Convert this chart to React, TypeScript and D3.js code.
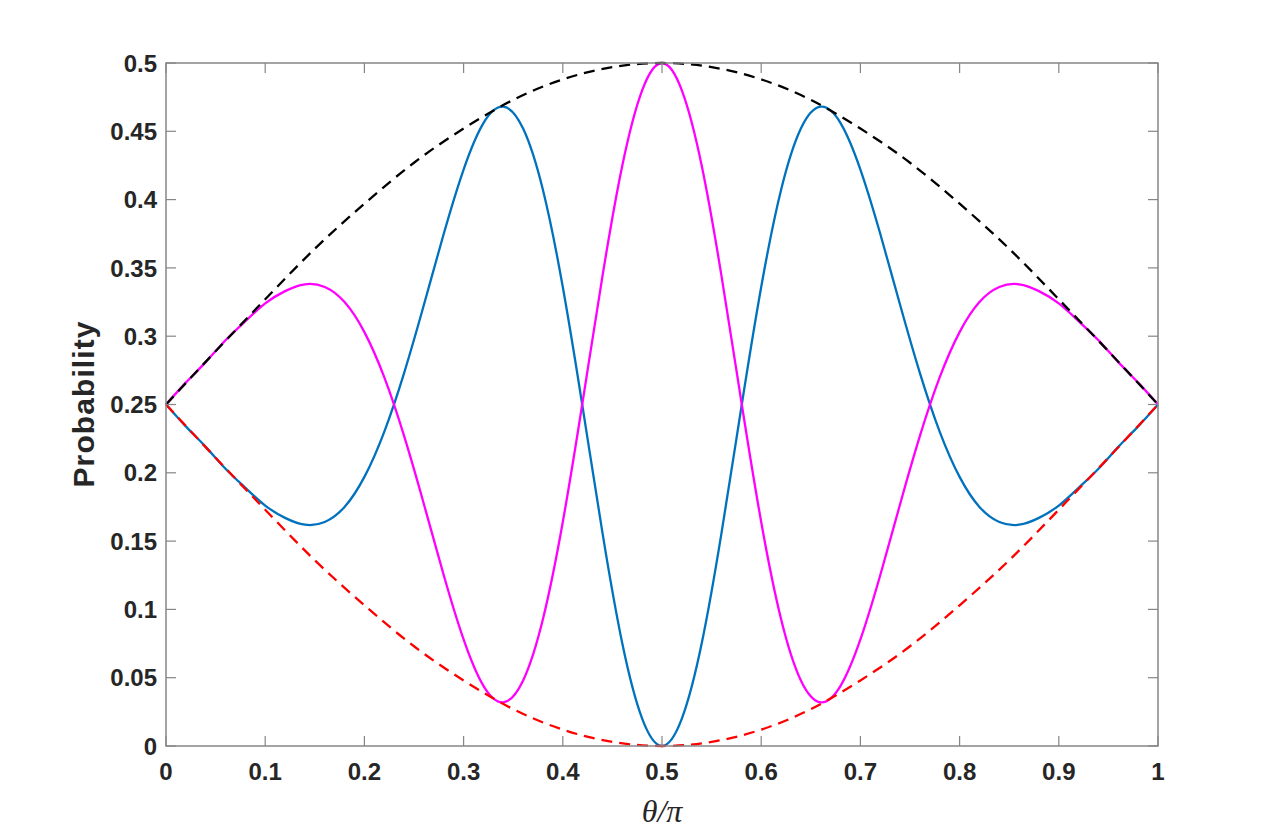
import React from 'react';
import * as d3 from 'd3';

// theta / pi sample points for the oscillating curves
const theta = [
  0, 0.02, 0.04, 0.06, 0.08, 0.1, 0.12, 0.14, 0.16, 0.18, 0.2, 0.22, 0.24, 0.26, 0.28, 0.3,
  0.32, 0.34, 0.36, 0.38, 0.4, 0.42, 0.44, 0.46, 0.48, 0.5, 0.52, 0.54, 0.56, 0.58, 0.6,
  0.62, 0.64, 0.66, 0.68, 0.7, 0.72, 0.74, 0.76, 0.78, 0.8, 0.82, 0.84, 0.86, 0.88, 0.9,
  0.92, 0.94, 0.96, 0.98, 1,
];

const blueProb = [
  0.25, 0.234, 0.219, 0.203, 0.189, 0.176, 0.167, 0.162, 0.164, 0.175, 0.197, 0.23, 0.273,
  0.323, 0.375, 0.422, 0.456, 0.468, 0.452, 0.407, 0.336, 0.248, 0.156, 0.075, 0.02, 0,
  0.02, 0.075, 0.156, 0.248, 0.336, 0.407, 0.452, 0.468, 0.456, 0.422, 0.375, 0.323, 0.273,
  0.23, 0.197, 0.175, 0.164, 0.162, 0.167, 0.176, 0.189, 0.203, 0.219, 0.234, 0.25,
];

const magentaProb = [
  0.25, 0.266, 0.281, 0.297, 0.311, 0.324, 0.333, 0.338, 0.336, 0.325, 0.303, 0.27, 0.227,
  0.177, 0.125, 0.078, 0.044, 0.032, 0.048, 0.093, 0.164, 0.252, 0.344, 0.425, 0.48, 0.5,
  0.48, 0.425, 0.344, 0.252, 0.164, 0.093, 0.048, 0.032, 0.044, 0.078, 0.125, 0.177, 0.227,
  0.27, 0.303, 0.325, 0.336, 0.338, 0.333, 0.324, 0.311, 0.297, 0.281, 0.266, 0.25,
];

// envelopes
const thetaEnv = [0, 0.05, 0.1, 0.15, 0.2, 0.25, 0.3, 0.35, 0.4, 0.45, 0.5, 0.55, 0.6, 0.65, 0.7, 0.75, 0.8, 0.85, 0.9, 0.95, 1];
const upperEnv = [0.25, 0.289, 0.327, 0.364, 0.397, 0.427, 0.452, 0.473, 0.488, 0.497, 0.5, 0.497, 0.488, 0.473, 0.452, 0.427, 0.397, 0.364, 0.327, 0.289, 0.25];
const lowerEnv = [0.25, 0.211, 0.173, 0.136, 0.103, 0.073, 0.048, 0.027, 0.012, 0.003, 0, 0.003, 0.012, 0.027, 0.048, 0.073, 0.103, 0.136, 0.173, 0.211, 0.25];

const xTicks = [0, 0.1, 0.2, 0.3, 0.4, 0.5, 0.6, 0.7, 0.8, 0.9, 1];
const xTickLabels = ['0', '0.1', '0.2', '0.3', '0.4', '0.5', '0.6', '0.7', '0.8', '0.9', '1'];
const yTicks = [0, 0.05, 0.1, 0.15, 0.2, 0.25, 0.3, 0.35, 0.4, 0.45, 0.5];
const yTickLabels = ['0', '0.05', '0.1', '0.15', '0.2', '0.25', '0.3', '0.35', '0.4', '0.45', '0.5'];

const App = () => {
  const width = 1280;
  const height = 839;
  const left = 166;
  const right = 1158;
  const top = 63;
  const bottom = 746;
  const tickLen = 10;
  const axisColor = '#868686';
  const textColor = '#262626';

  const x = d3.scaleLinear().domain([0, 1]).range([left, right]);
  const y = d3.scaleLinear().domain([0, 0.5]).range([bottom, top]);

  // smooth curves through the read-off points
  const curveLine = d3.line<number>()
    .x((d, i) => x(theta[i]))
    .y((d) => y(d))
    .curve(d3.curveNatural);

  const envLine = d3.line<number>()
    .x((d, i) => x(thetaEnv[i]))
    .y((d) => y(d))
    .curve(d3.curveNatural);

  const font = '"Liberation Sans", Arial, sans-serif';

  return (
    <svg width={width} height={height} style={{ position: 'absolute', left: 0, top: 0, background: '#fff' }}>
      <rect x={0} y={0} width={width} height={height} fill="#fff" />

      {/* data lines */}
      <path d={curveLine(blueProb) || ''} fill="none" stroke="#0072BD" strokeWidth={2.3} />
      <path d={curveLine(magentaProb) || ''} fill="none" stroke="#FF00FF" strokeWidth={2.3} />
      <path d={envLine(upperEnv) || ''} fill="none" stroke="#000" strokeWidth={2.3} strokeDasharray="11,7" />
      <path d={envLine(lowerEnv) || ''} fill="none" stroke="#FF0000" strokeWidth={2.3} strokeDasharray="11,7" />

      {/* box */}
      <rect x={left} y={top} width={right - left} height={bottom - top} fill="none" stroke={axisColor} strokeWidth={1.5} />

      {/* x ticks */}
      {xTicks.map((t, i) => (
        <g key={'xt' + i}>
          <line x1={x(t)} x2={x(t)} y1={bottom} y2={bottom - tickLen} stroke={axisColor} strokeWidth={1.2} />
          <line x1={x(t)} x2={x(t)} y1={top} y2={top + tickLen} stroke={axisColor} strokeWidth={1.2} />
          <text x={x(t)} y={bottom + 34} textAnchor="middle" fontFamily={font} fontWeight="bold" fontSize={24} fill={textColor}>
            {xTickLabels[i]}
          </text>
        </g>
      ))}

      {/* y ticks */}
      {yTicks.map((t, i) => (
        <g key={'yt' + i}>
          <line x1={left} x2={left + tickLen} y1={y(t)} y2={y(t)} stroke={axisColor} strokeWidth={1.2} />
          <line x1={right} x2={right - tickLen} y1={y(t)} y2={y(t)} stroke={axisColor} strokeWidth={1.2} />
          <text x={left - 9} y={y(t)} dy="0.36em" textAnchor="end" fontFamily={font} fontWeight="bold" fontSize={24} fill={textColor}>
            {yTickLabels[i]}
          </text>
        </g>
      ))}

      {/* axis labels */}
      <text
        x={(left + right) / 2}
        y={822}
        textAnchor="middle"
        fontFamily='"Liberation Serif", "Times New Roman", serif'
        fontStyle="italic"
        fontSize={32}
        fill={textColor}
      >
        θ/π
      </text>
      <text
        transform={`translate(94,${(top + bottom) / 2}) rotate(-90)`}
        textAnchor="middle"
        fontFamily={font}
        fontWeight="bold"
        fontSize={30}
        textLength={166}
        lengthAdjust="spacing"
        fill={textColor}
      >
        Probability
      </text>
    </svg>
  );
};

export default App;
